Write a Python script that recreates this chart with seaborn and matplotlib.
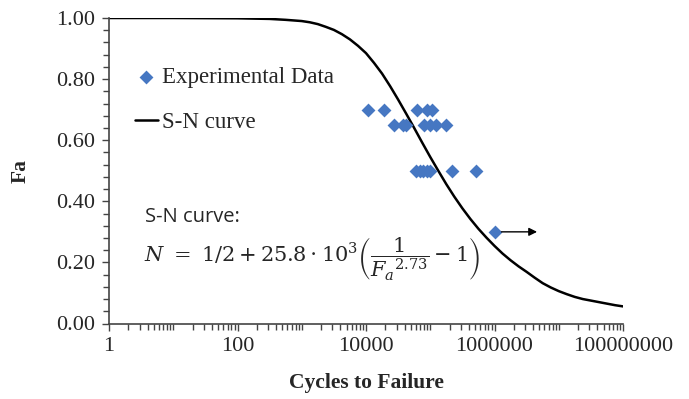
import matplotlib
matplotlib.use("Agg")
import matplotlib.pyplot as plt
import seaborn as sns
import pandas as pd
from matplotlib.ticker import FixedLocator, NullFormatter, FixedFormatter

# ---- data ----
fa_levels = [0.70, 0.70, 0.70, 0.70, 0.70,
             0.65, 0.65, 0.65, 0.65, 0.65, 0.65, 0.65,
             0.50, 0.50, 0.50, 0.50, 0.50, 0.50, 0.50,
             0.30]
cycles = [10700, 19000, 61700, 89000, 105000,
          27500, 37000, 42500, 81000, 100000, 123000, 178000,
          59000, 69000, 78000, 89000, 100000, 219000, 513000,
          1000000]

curve_cycles = [1, 10, 100, 316, 562, 1000, 1334, 1778, 2371, 3162, 4217,
                5623, 7499, 10000, 13335, 17783, 23714, 31623, 42170, 56234,
                74989, 100000, 133352, 177828, 237137, 316228, 421697, 562341,
                749894, 1000000, 1333521, 1778279, 2371374, 3162278, 4216965,
                5623413, 7498942, 10000000, 13335214, 17782794, 23713737,
                31622777, 42169650, 56234133, 74989421, 100000000]
curve_fa = [1.000, 1.000, 0.999, 0.997, 0.994, 0.990, 0.986, 0.980, 0.971,
            0.961, 0.947, 0.930, 0.909, 0.885, 0.853, 0.818, 0.777, 0.733,
            0.687, 0.640, 0.592, 0.545, 0.500, 0.456, 0.415, 0.377, 0.342,
            0.310, 0.281, 0.254, 0.229, 0.207, 0.187, 0.169, 0.150, 0.132,
            0.118, 0.106, 0.096, 0.087, 0.080, 0.075, 0.070, 0.065, 0.060,
            0.056]

runout_cycles = [1000000]
runout_fa = [0.30]
runout_end = [4600000]

x_tick_labels = ["1", "100", "10000", "1000000", "100000000"]
y_tick_labels = ["0.00", "0.20", "0.40", "0.60", "0.80", "1.00"]

sns.set_theme(style="ticks")
plt.rcParams["font.family"] = ["Liberation Serif", "DejaVu Serif"]
plt.rcParams["mathtext.fontset"] = "dejavuserif"

fig = plt.figure(figsize=(6.89, 3.99), dpi=100)
ax = fig.add_axes([109/689, 1-323.5/399, (623-109)/689, (323.5-18)/399])

df_exp = pd.DataFrame({"cycles": cycles, "fa": fa_levels})
df_curve = pd.DataFrame({"cycles": curve_cycles, "fa": curve_fa})

sns.lineplot(data=df_curve, x="cycles", y="fa", ax=ax, color="black",
             linewidth=1.8, sort=False, estimator=None, label="S-N curve",
             zorder=2)
sns.scatterplot(data=df_exp, x="cycles", y="fa", ax=ax, marker="D",
                color="#4677C2", s=50, linewidth=0, label="Experimental Data",
                zorder=3)

for xs, ys, xe in zip(runout_cycles, runout_fa, runout_end):
    ax.annotate("", xy=(xe, ys), xytext=(xs, ys),
                arrowprops=dict(arrowstyle="-|>", color="black", lw=1.0,
                                mutation_scale=12, shrinkA=5, shrinkB=0))

ax.set_xscale("log")
ax.set_xlim(1, 1e8)
ax.set_ylim(0, 1.0)

major_x = [1e0, 1e2, 1e4, 1e6, 1e8]
ax.xaxis.set_major_locator(FixedLocator(major_x))
ax.xaxis.set_major_formatter(FixedFormatter(x_tick_labels))
minor_x = []
for d in range(0, 8):
    for k in range(1, 10):
        v = k * 10 ** d
        if v not in major_x:
            minor_x.append(v)
ax.xaxis.set_minor_locator(FixedLocator(minor_x))
ax.xaxis.set_minor_formatter(NullFormatter())

yt = [0.0, 0.2, 0.4, 0.6, 0.8, 1.0]
ax.yaxis.set_major_locator(FixedLocator(yt))
ax.yaxis.set_major_formatter(FixedFormatter(y_tick_labels))
ax.yaxis.set_minor_locator(FixedLocator([i * 0.04 for i in range(26)]))

ax.tick_params(axis="both", which="major", direction="out", length=5,
               width=1, color="#444444", labelsize=16, pad=5)
ax.tick_params(axis="both", which="minor", direction="out", length=4,
               width=1, color="#444444")
for s in ["top", "right"]:
    ax.spines[s].set_visible(False)
for s in ["left", "bottom"]:
    ax.spines[s].set_color("#444444")
    ax.spines[s].set_linewidth(1.2)

ax.set_xlabel("Cycles to Failure", fontsize=15.5, fontweight="bold", labelpad=12)
ax.set_ylabel("Fa", fontsize=15.5, fontweight="bold", labelpad=18)

h, l = ax.get_legend_handles_labels()
order = [l.index("Experimental Data"), l.index("S-N curve")]
ax.legend([h[i] for i in order], [l[i] for i in order], frameon=False,
          loc="upper left", bbox_to_anchor=(0.032, 0.87), fontsize=16.5,
          handlelength=1.0, handletextpad=0.2, labelspacing=1.05,
          borderaxespad=0)

ax.text(145/689, 1-217/399, "S-N curve:", transform=fig.transFigure,
        fontsize=14.5, family=["Open Sans", "DejaVu Sans"], va="center",
        ha="left")
ax.text(144/689, 1-259/399,
        r"$N\ =\ 1/2 + 25.8\cdot 10^3\left(\dfrac{1}{{F_a}^{2.73}} - 1\right)$",
        transform=fig.transFigure, fontsize=15, va="center", ha="left")

fig.savefig("out.png", dpi=100)
